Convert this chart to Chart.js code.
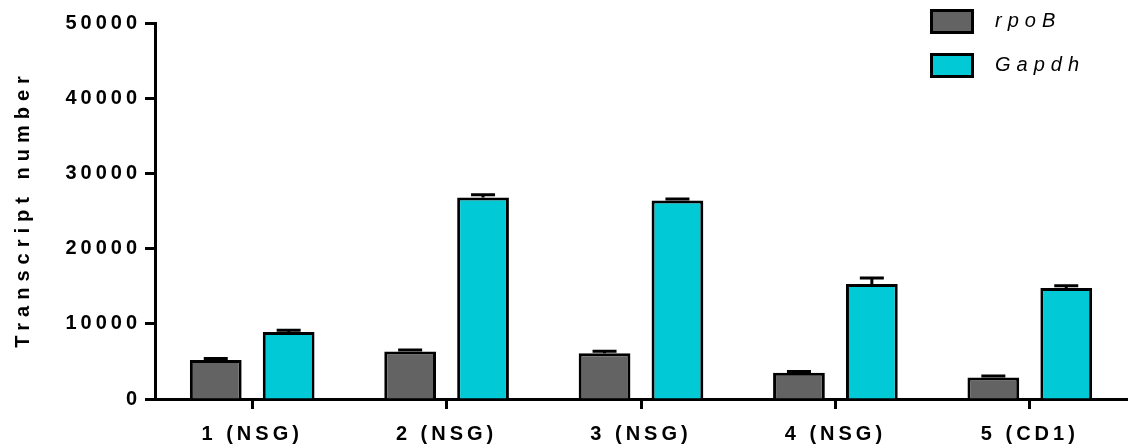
<!DOCTYPE html>
<html><head><meta charset="utf-8">
<script src="https://cdn.jsdelivr.net/npm/chart.js@4"></script>
<style>html,body{margin:0;padding:0;background:#fff}#wrap{width:1128px;height:448px}</style>
</head><body><div id="wrap"><canvas id="c" width="1128" height="448"></canvas></div>
<script>
const categories = ['1 (NSG)', '2 (NSG)', '3 (NSG)', '4 (NSG)', '5 (CD1)'];
const seriesNames = ['rpoB', 'Gapdh'];
const rpoB = [5200, 6300, 6100, 3500, 2850];
const rpoBErr = [200, 200, 250, 150, 200];
const gapdh = [8900, 26800, 26400, 15300, 14750];
const gapdhErr = [250, 350, 200, 800, 300];
const yTicks = [0, 10000, 20000, 30000, 40000, 50000];
const yTitle = 'Transcript number';

const FONT = "'Liberation Sans', Arial, sans-serif";
const TICK_SPACING = '4px';

const spacingPlugin = {
  id: 'spacing',
  beforeUpdate(chart) { chart.ctx.letterSpacing = TICK_SPACING; },
  beforeLayout(chart) { chart.ctx.letterSpacing = TICK_SPACING; },
  beforeDraw(chart) { chart.ctx.letterSpacing = TICK_SPACING; }
};

const errorBarPlugin = {
  id: 'errorBars',
  afterDatasetsDraw(chart) {
    const ctx = chart.ctx, y = chart.scales.y;
    chart.data.datasets.forEach((ds, i) => {
      const meta = chart.getDatasetMeta(i);
      meta.data.forEach((bar, j) => {
        const top = y.getPixelForValue(ds.data[j] + ds.errors[j]);
        ctx.save();
        ctx.strokeStyle = '#000';
        ctx.lineWidth = 3;
        ctx.beginPath();
        ctx.moveTo(bar.x, bar.y);
        ctx.lineTo(bar.x, top);
        ctx.moveTo(bar.x - 12, top);
        ctx.lineTo(bar.x + 12, top);
        ctx.stroke();
        ctx.restore();
      });
    });
  }
};

const titleLegendPlugin = {
  id: 'titleLegend',
  afterDraw(chart) {
    const ctx = chart.ctx, ca = chart.chartArea;
    // y axis title
    ctx.save();
    ctx.letterSpacing = '6px';
    ctx.font = 'bold 20px ' + FONT;
    ctx.fillStyle = '#000';
    ctx.textAlign = 'center';
    ctx.textBaseline = 'middle';
    ctx.translate(23, (ca.top + ca.bottom) / 2 - 2);
    ctx.rotate(-Math.PI / 2);
    ctx.fillText(yTitle, 0, 0);
    ctx.restore();
    // legend
    chart.data.datasets.forEach((ds, i) => {
      const bx = 931.5, by = 10.5 + i * 44;
      ctx.save();
      ctx.fillStyle = ds.backgroundColor;
      ctx.fillRect(bx, by, 41, 22);
      ctx.strokeStyle = '#000';
      ctx.lineWidth = 3;
      ctx.strokeRect(bx, by, 41, 22);
      ctx.letterSpacing = '6px';
      ctx.font = 'italic 20px ' + FONT;
      ctx.fillStyle = '#000';
      ctx.textAlign = 'left';
      ctx.textBaseline = 'middle';
      ctx.fillText(ds.label, 995, by + 11);
      ctx.restore();
    });
  }
};

Chart.defaults.color = '#000';
Chart.defaults.font.family = FONT;

new Chart(document.getElementById('c'), {
  type: 'bar',
  data: {
    labels: categories,
    datasets: [
      { label: seriesNames[0], data: rpoB, errors: rpoBErr, backgroundColor: '#636363', borderColor: '#000', borderWidth: 3 },
      { label: seriesNames[1], data: gapdh, errors: gapdhErr, backgroundColor: '#02C9D6', borderColor: '#000', borderWidth: 3 }
    ]
  },
  options: {
    responsive: false,
    animation: false,
    categoryPercentage: 0.75,
    barPercentage: 0.71,
    layout: { padding: { top: 23, right: 1, left: 0, bottom: 0 } },
    plugins: { legend: { display: false }, tooltip: { enabled: false } },
    scales: {
      x: {
        grid: { display: true, drawOnChartArea: false, offset: false, tickLength: 10, tickWidth: 3, tickColor: '#000' },
        border: { display: true, color: '#000', width: 3 },
        ticks: { font: { size: 20, weight: 'bold' }, padding: 13, maxRotation: 0 },
        afterFit(scale) { scale.height = 49; }
      },
      y: {
        min: 0, max: 50000,
        afterBuildTicks(scale) { scale.ticks = yTicks.map(v => ({ value: v })); },
        grid: { display: true, drawOnChartArea: false, tickLength: 10, tickWidth: 3, tickColor: '#000' },
        border: { display: true, color: '#000', width: 3 },
        ticks: { font: { size: 20, weight: 'bold' }, padding: 4, callback: v => String(v) },
        afterFit(scale) { scale.width = 155; }
      }
    }
  },
  plugins: [spacingPlugin, errorBarPlugin, titleLegendPlugin]
});
</script>
</body></html>
